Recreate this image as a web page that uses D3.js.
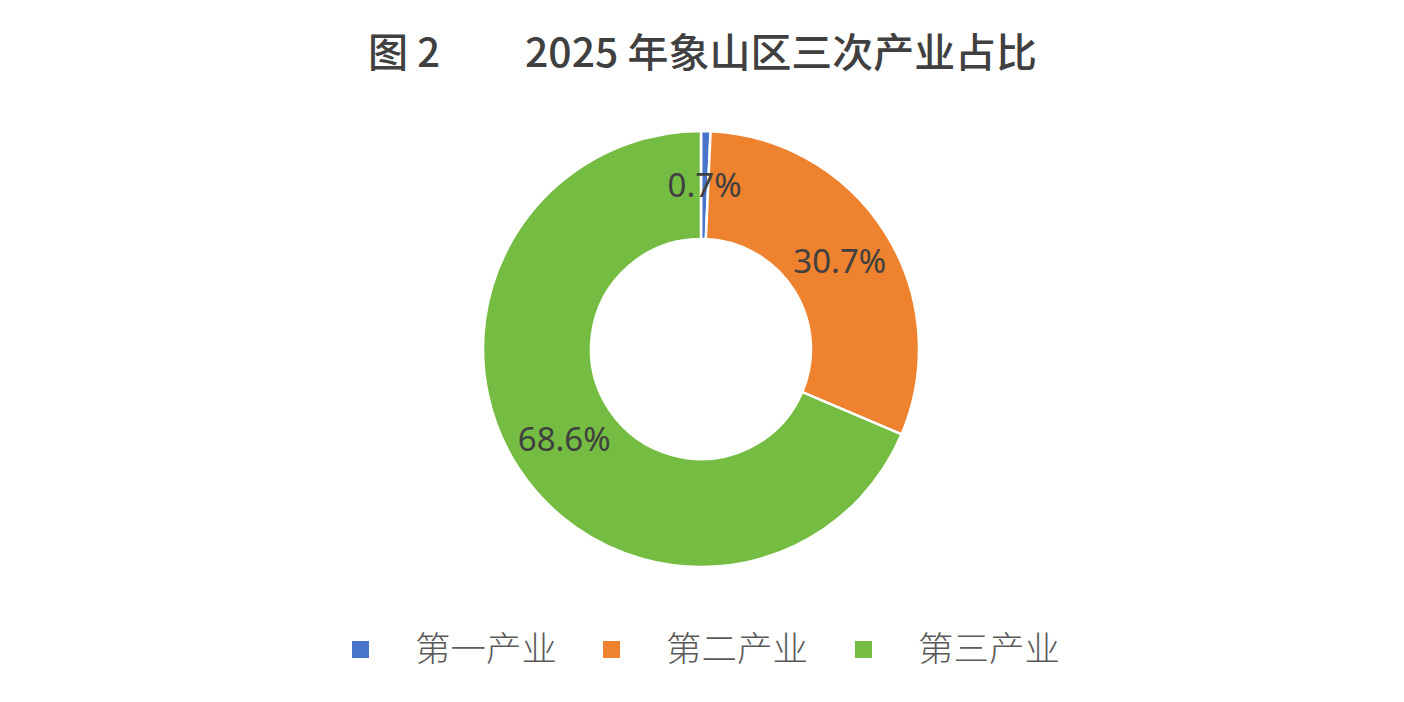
<!DOCTYPE html>
<html><head><meta charset="utf-8">
<script src="https://cdn.jsdelivr.net/npm/d3@7"></script>
<style>html,body{margin:0;padding:0;background:#fff;}</style>
</head><body>
<svg id="chart" width="1404" height="702"></svg>
<script>
const titleLead = "图 2";
const titleMain = "2025 年象山区三次产业占比";
const categories = ["第一产业", "第二产业", "第三产业"];
const shares = [0.7, 30.7, 68.6];
const labels = ["0.7%", "30.7%", "68.6%"];
const colors = ["#4874CB", "#EE822F", "#75BD42"];

const svg = d3.select("#chart");
const W = 1404, H = 702;
svg.append("rect").attr("width", W).attr("height", H).attr("fill", "#fff");

// title
svg.append("text").attr("x", 368).attr("y", 67)
  .attr("font-family", "'Noto Sans CJK SC'").attr("font-weight", 500)
  .attr("font-size", 40).attr("fill", "#404040")
  .attr("textLength", 72).attr("lengthAdjust", "spacingAndGlyphs")
  .text(titleLead);
svg.append("text").attr("x", 525).attr("y", 67)
  .attr("font-family", "'Noto Sans CJK SC'").attr("font-weight", 500)
  .attr("font-size", 40).attr("fill", "#404040")
  .attr("textLength", 512).attr("lengthAdjust", "spacingAndGlyphs")
  .text(titleMain);

// donut
const cx = 701, cy = 349, rOuter = 218, rInner = 110;
const pie = d3.pie().sort(null).value(d => d)(shares);
const arc = d3.arc().innerRadius(rInner).outerRadius(rOuter);
const g = svg.append("g").attr("transform", `translate(${cx},${cy})`);
g.selectAll("path").data(pie).join("path")
  .attr("d", arc)
  .attr("fill", (d, i) => colors[i])
  .attr("stroke", "#fff").attr("stroke-width", 2.5).attr("stroke-linejoin", "round");

const labelArc = d3.arc().innerRadius((rInner + rOuter) / 2).outerRadius((rInner + rOuter) / 2);
g.selectAll("text.lbl").data(pie).join("text")
  .attr("class", "lbl")
  .attr("transform", d => `translate(${labelArc.centroid(d)})`)
  .attr("text-anchor", "middle").attr("dy", "0.36em")
  .attr("font-family", "'Noto Sans', sans-serif")
  .attr("font-size", 33).attr("fill", "#404040")
  .text((d, i) => labels[i]);

// legend
const legendX = [352, 603, 855];
const lg = svg.append("g");
categories.forEach((c, i) => {
  lg.append("rect").attr("x", legendX[i]).attr("y", 641)
    .attr("width", 17).attr("height", 17).attr("fill", colors[i]);
  lg.append("text").attr("x", legendX[i] + 63).attr("y", 661)
    .attr("font-family", "'Noto Sans CJK SC'").attr("font-weight", 300)
    .attr("font-size", 34).attr("fill", "#595959")
    .attr("textLength", 142).attr("lengthAdjust", "spacingAndGlyphs")
    .text(c);
});
</script>
</body></html>
